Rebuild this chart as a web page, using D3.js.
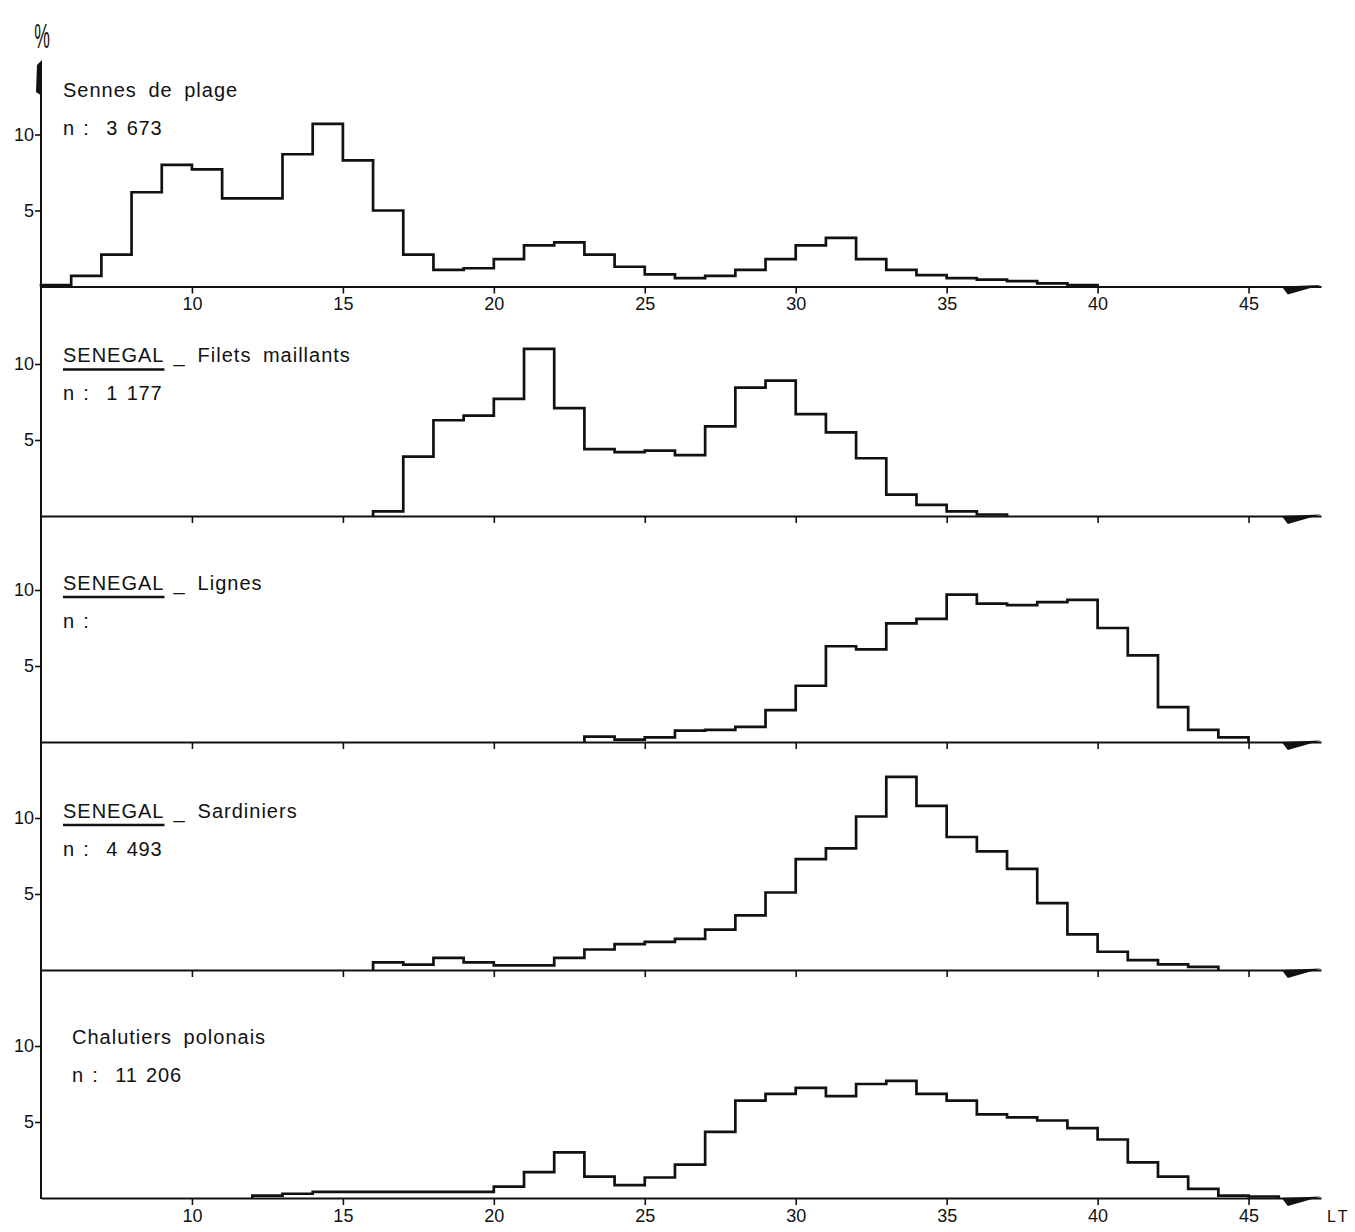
<!DOCTYPE html>
<html>
<head>
<meta charset="utf-8">
<script src="https://cdn.jsdelivr.net/npm/d3@7"></script>
<style>
  body { margin: 0; background: #fff; }
  svg { display: block; }
  text { font-family: "Liberation Sans", Arial, sans-serif; fill: #111; }
</style>
</head>
<body>
<div id="container"></div>
<script>
"use strict";

// Length classes (LT, cm): start of each 1 cm class.
const binStarts = [5, 6, 7, 8, 9, 10, 11, 12, 13, 14, 15, 16, 17, 18, 19, 20, 21, 22, 23, 24, 25,
  26, 27, 28, 29, 30, 31, 32, 33, 34, 35, 36, 37, 38, 39, 40, 41, 42, 43, 44, 45, 46];
const xTickValues = [10, 15, 20, 25, 30, 35, 40, 45];
const yTickValues = [5, 10];

// Percentages per length class.
const senneValues = [0.1, 0.7, 2.1, 6.2, 8.0, 7.7, 5.8, 5.8, 8.7, 10.7, 8.3, 5.0, 2.1, 1.1, 1.2, 1.8,
  2.7, 2.9, 2.1, 1.3, 0.8, 0.55, 0.7, 1.1, 1.8, 2.7, 3.2, 1.8, 1.1, 0.75, 0.55, 0.45, 0.35, 0.2, 0.1,
  0, 0, 0, 0, 0, 0, 0];
const filetsValues = [0, 0, 0, 0, 0, 0, 0, 0, 0, 0, 0, 0.3, 3.9, 6.3, 6.6, 7.7, 11.0, 7.1, 4.4, 4.2,
  4.3, 4.0, 5.9, 8.45, 8.9, 6.7, 5.5, 3.8, 1.4, 0.73, 0.3, 0.1, 0, 0, 0, 0, 0, 0, 0, 0, 0, 0];
const lignesValues = [0, 0, 0, 0, 0, 0, 0, 0, 0, 0, 0, 0, 0, 0, 0, 0, 0, 0, 0.35, 0.15, 0.3, 0.75,
  0.8, 1.0, 2.1, 3.7, 6.3, 6.1, 7.8, 8.1, 9.7, 9.1, 9.0, 9.2, 9.35, 7.5, 5.7, 2.3, 0.8, 0.3, 0, 0];
const sardinierValues = [0, 0, 0, 0, 0, 0, 0, 0, 0, 0, 0, 0.5, 0.35, 0.8, 0.5, 0.3, 0.3, 0.8, 1.35,
  1.7, 1.85, 2.05, 2.65, 3.6, 5.1, 7.3, 8.0, 10.1, 12.7, 10.8, 8.75, 7.8, 6.65, 4.4, 2.35, 1.2, 0.65,
  0.37, 0.2, 0, 0, 0];
const chalutierValues = [0, 0, 0, 0, 0, 0, 0, 0.15, 0.28, 0.4, 0.4, 0.4, 0.4, 0.4, 0.4, 0.75, 1.7, 3.0,
  1.4, 0.85, 1.35, 2.2, 4.35, 6.4, 6.85, 7.25, 6.7, 7.5, 7.7, 6.85, 6.4, 5.5, 5.3, 5.1, 4.6, 3.85, 2.35,
  1.4, 0.6, 0.15, 0.1, 0];

const panelSeries = [senneValues, filetsValues, lignesValues, sardinierValues, chalutierValues];
const panelTitles = ["Sennes de plage", "Filets maillants", "Lignes", "Sardiniers", "Chalutiers polonais"];
const panelCounts = ["3 673", "1 177", "", "4 493", "11 206"];
const panelSenegal = [false, true, true, true, false];

// Layout
const width = 1355;
const height = 1232;
const axisX = 41;
const baselines = [286.5, 516, 742, 970, 1198];
const titleLevels = [12.5, 10.1, 10, 10, 10.1]; // in y units of each panel
const countLevels = [10, 7.6, 7.5, 7.5, 7.6];
const titleX = [63, 63, 63, 63, 72];
const binWidth = 1;
const fontFamily = '"Liberation Sans", Arial, sans-serif';

const svg = d3.select("#container").append("svg").attr("width", width).attr("height", height);

const x = d3.scaleLinear().domain([5, 47.4]).range([axisX, 1321]);

function stepPoints(values) {
  const first = values.findIndex((v) => v > 0);
  let last = values.length - 1;
  while (last >= 0 && values[last] <= 0) last--;
  const pts = [[binStarts[first], 0]];
  for (let i = first; i <= last; i++) {
    pts.push([binStarts[i], values[i]], [binStarts[i] + binWidth, values[i]]);
  }
  pts.push([binStarts[last] + binWidth, 0]);
  return pts;
}

// Left vertical axis, common to all panels, with its arrow head on top.
svg.append("line")
  .attr("x1", axisX).attr("x2", axisX)
  .attr("y1", 62).attr("y2", baselines[4] + 1)
  .attr("stroke", "#111").attr("stroke-width", 2);
svg.append("path")
  .attr("d", `M${axisX + 1},60 L${axisX - 4},65 L${axisX - 5},92 L${axisX + 1},96 Z`)
  .attr("fill", "#111");

// Percent sign above the axis.
svg.append("text")
  .attr("transform", `translate(${axisX + 1},48) scale(0.8,1.6)`)
  .attr("text-anchor", "middle")
  .style("font-size", "22px")
  .text("%");

panelSeries.forEach((values, i) => {
  const b = baselines[i];
  const y = d3.scaleLinear().domain([0, 10]).range([b, b - 152]);
  const showLabels = i === 0 || i === 4;

  // x-axis with ticks (labels only under the first and last panel).
  const xg = svg.append("g")
    .attr("transform", `translate(0,${b})`)
    .style("font-size", "18px")
    .style("font-family", fontFamily)
    .call(d3.axisBottom(x)
      .tickValues(xTickValues)
      .tickSize(7)
      .tickSizeOuter(0)
      .tickPadding(4)
      .tickFormat(showLabels ? d3.format("d") : () => ""));
  xg.select(".domain").attr("stroke", "#111").attr("stroke-width", 2);
  xg.selectAll(".tick line").attr("stroke", "#111").attr("stroke-width", 1.6);
  xg.selectAll(".tick text").attr("fill", "#111");

  // Arrow head at the right end of the axis.
  svg.append("path")
    .attr("d", `M${x(46.1)},${b} L${x(47.4)},${b - 1.5} L${x(46.3)},${b + 8} Z`)
    .attr("fill", "#111");

  // y-axis ticks.
  const yg = svg.append("g")
    .attr("transform", `translate(${axisX},0)`)
    .style("font-size", "18px")
    .style("font-family", fontFamily)
    .call(d3.axisLeft(y).tickValues(yTickValues).tickSize(6).tickPadding(1))
    .call((g) => g.select(".domain").remove());
  yg.selectAll(".tick line").attr("stroke", "#111").attr("stroke-width", 1.6);
  yg.selectAll(".tick text").attr("fill", "#111");

  // Histogram outline.
  svg.append("path")
    .datum(stepPoints(values))
    .attr("fill", "none")
    .attr("stroke", "#111")
    .attr("stroke-width", 2.7)
    .attr("stroke-linejoin", "miter")
    .attr("d", d3.line().x((d) => x(d[0])).y((d) => y(d[1])));

  // Panel captions.
  const tx = titleX[i];
  const ty = y(titleLevels[i]);
  const title = svg.append("text")
    .attr("x", tx).attr("y", ty)
    .style("font-size", "20px")
    .style("letter-spacing", "1px")
    .style("word-spacing", "5px");
  if (panelSenegal[i]) {
    const sen = title.append("tspan").text("SENEGAL");
    const senWidth = sen.node().getComputedTextLength();
    svg.append("line")
      .attr("x1", tx).attr("x2", tx + senWidth)
      .attr("y1", ty + 7).attr("y2", ty + 7)
      .attr("stroke", "#111").attr("stroke-width", 2.6);
    title.append("tspan").attr("dx", 9).text("_");
    title.append("tspan").attr("dx", 12).text(panelTitles[i]);
  } else {
    title.text(panelTitles[i]);
  }

  svg.append("text")
    .attr("x", tx).attr("y", y(countLevels[i]))
    .style("font-size", "20px")
    .style("letter-spacing", "0.8px")
    .style("word-spacing", "2px")
    .style("white-space", "pre")
    .text(`n :  ${panelCounts[i]}`);
});

// Axis name at the lower right.
svg.append("text")
  .attr("x", 1327).attr("y", 1222)
  .style("font-size", "16px")
  .style("letter-spacing", "3px")
  .text("LT");
</script>
</body>
</html>
